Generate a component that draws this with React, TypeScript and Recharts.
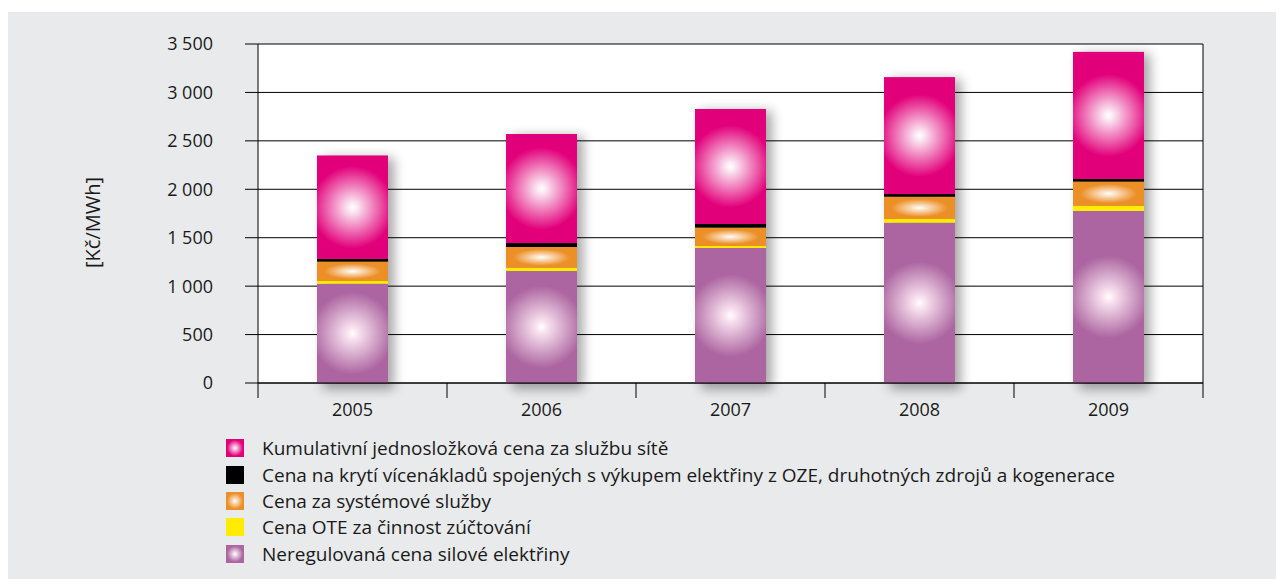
import { BarChart, Bar, XAxis, YAxis, CartesianGrid } from 'recharts';

const years = ['2005', '2006', '2007', '2008', '2009'];
const neregulovana = [1025, 1156, 1394, 1655, 1776];
const ote = [28, 34, 21, 38, 55];
const systemove = [200, 214, 189, 230, 248];
const oze = [28, 41, 38, 28, 28];
const sit = [1066, 1125, 1187, 1205, 1311];
const yTicks = [0, 500, 1000, 1500, 2000, 2500, 3000, 3500];

// stacked bottom -> top
const series = [
  { key: 'neregulovana', name: 'Neregulovaná cena silové elektřiny', color: '#ac65a0', glow: 'circle' },
  { key: 'ote', name: 'Cena OTE za činnost zúčtování', color: '#ffec00', glow: 'none' },
  { key: 'systemove', name: 'Cena za systémové služby', color: '#ec8f26', glow: 'ellipse' },
  { key: 'oze', name: 'Cena na krytí vícenákladů spojených s výkupem elektřiny z OZE, druhotných zdrojů a kogenerace', color: '#000000', glow: 'none' },
  { key: 'sit', name: 'Kumulativní jednosložková cena za službu sítě', color: '#e2007a', glow: 'circle' },
];

const data = years.map((year, i) => ({
  year,
  neregulovana: neregulovana[i],
  ote: ote[i],
  systemove: systemove[i],
  oze: oze[i],
  sit: sit[i],
  total: neregulovana[i] + ote[i] + systemove[i] + oze[i] + sit[i],
}));

const font = '"Open Sans", sans-serif';

const formatTick = (v: number) =>
  v >= 1000 ? `${Math.floor(v / 1000)} ${String(v % 1000).padStart(3, '0')}` : String(v);

const makeShape = (key: string, color: string, glow: string) => (props: any) => {
  const { x, y, width, height, index } = props;
  if (!height || height <= 0) return <g />;
  const id = `g-${key}-${index}`;
  if (glow === 'none') return <rect x={x} y={y} width={width} height={height} fill={color} />;
  const cx = x + width / 2;
  const cy = y + height / 2;
  return (
    <g>
      <defs>
        {glow === 'circle' ? (
          <radialGradient id={id} gradientUnits="userSpaceOnUse" cx={cx} cy={cy} r={width * 0.58}>
            <stop offset="0" stopColor="#ffffff" />
            <stop offset="0.12" stopColor="#fbe6f2" />
            <stop offset="1" stopColor={color} />
          </radialGradient>
        ) : (
          <radialGradient id={id} cx="0.5" cy="0.5" r="0.5" fx="0.5" fy="0.5">
            <stop offset="0" stopColor="#ffffff" />
            <stop offset="0.1" stopColor="#fdf0e0" />
            <stop offset="0.8" stopColor={color} />
            <stop offset="1" stopColor={color} />
          </radialGradient>
        )}
      </defs>
      <rect x={x} y={y} width={width} height={height} fill={color} />
      <rect x={x} y={y} width={width} height={height} fill={`url(#${id})`} />
    </g>
  );
};

const ShadowShape = (props: any) => {
  const { x, y, width, height, index } = props;
  const id = `shadow-${index}`;
  return (
    <g>
      <defs>
        <filter id={id} x="-50%" y="-50%" width="200%" height="200%">
          <feGaussianBlur stdDeviation="6" />
        </filter>
      </defs>
      <rect x={x + 6} y={y + 2} width={width} height={height + 4} fill="#000" opacity={0.35} filter={`url(#${id})`} />
    </g>
  );
};

const XTick = (props: any) => {
  const { x, y, payload, index, visibleTicksCount } = props;
  const half = payload?.offset ?? 0;
  return (
    <g>
      <line x1={x - half} x2={x - half} y1={y} y2={y + 15} stroke="#000" />
      {index === visibleTicksCount - 1 && (
        <line x1={x + half} x2={x + half} y1={y} y2={y + 15} stroke="#000" />
      )}
      <text x={x} y={y + 33} textAnchor="middle" fontFamily={font} fontSize={18} fill="#1a1a1a">
        {payload.value}
      </text>
    </g>
  );
};

const YLabel = (props: any) => {
  const { viewBox } = props;
  const lx = viewBox.x - 106;
  const ly = viewBox.y + viewBox.height / 2 + 9;
  return (
    <text x={lx} y={ly} transform={`rotate(-90 ${lx} ${ly})`} textAnchor="middle" dominantBaseline="central"
      fontFamily={font} fontSize={20} fill="#1a1a1a">
      [Kč/MWh]
    </text>
  );
};

const legendOrder = [...series].reverse();

export default function App() {
  return (
    <div style={{ marginTop: 4, width: 1276, height: 567, background: '#e9eaec', position: 'relative', fontFamily: font }}>
      <BarChart
        width={1276}
        height={430}
        data={data}
        margin={{ top: 32, right: 80, bottom: 29, left: 190 }}
        barSize={71}
        barGap={-71}
      >
        <CartesianGrid horizontal vertical={false} stroke="#000" fill="#ffffff" fillOpacity={1} />
        <XAxis
          dataKey="year"
          axisLine={{ stroke: '#000' }}
          tickLine={false}
          tickSize={0}
          tickMargin={0}
          height={30}
          tick={<XTick />}
          interval={0}
        />
        <YAxis
          domain={[0, 3500]}
          ticks={yTicks}
          interval={0}
          width={60}
          tickFormatter={formatTick}
          axisLine={{ stroke: '#000' }}
          tickLine={{ stroke: '#000' }}
          tickSize={13}
          tickMargin={32}
          tick={{ fontFamily: font, fontSize: 18, fill: '#1a1a1a' }}
          label={<YLabel />}
        />
        <YAxis yAxisId="right" orientation="right" width={1} tick={false} axisLine={{ stroke: '#000' }} tickLine={false} domain={[0, 3500]} />
        <Bar dataKey="total" stackId="shadow" shape={<ShadowShape />} isAnimationActive={false} legendType="none" />
        {series.map((s) => (
          <Bar
            key={s.key}
            dataKey={s.key}
            name={s.name}
            stackId="a"
            fill={s.color}
            shape={makeShape(s.key, s.color, s.glow)}
            isAnimationActive={false}
          />
        ))}
      </BarChart>
      <div style={{ position: 'absolute', left: 218, top: 423 }}>
        {legendOrder.map((s) => (
          <div key={s.key} style={{ display: 'flex', alignItems: 'center', height: 26.4 }}>
            <div
              style={{
                width: 18,
                height: 18,
                background:
                  s.glow === 'none'
                    ? s.color
                    : `radial-gradient(circle at 50% 50%, #ffffff 0px, ${s.color} 8px)`,
              }}
            />
            <span style={{ marginLeft: 18, fontSize: 19, color: '#1a1a1a', whiteSpace: 'nowrap' }}>{s.name}</span>
          </div>
        ))}
      </div>
    </div>
  );
}
